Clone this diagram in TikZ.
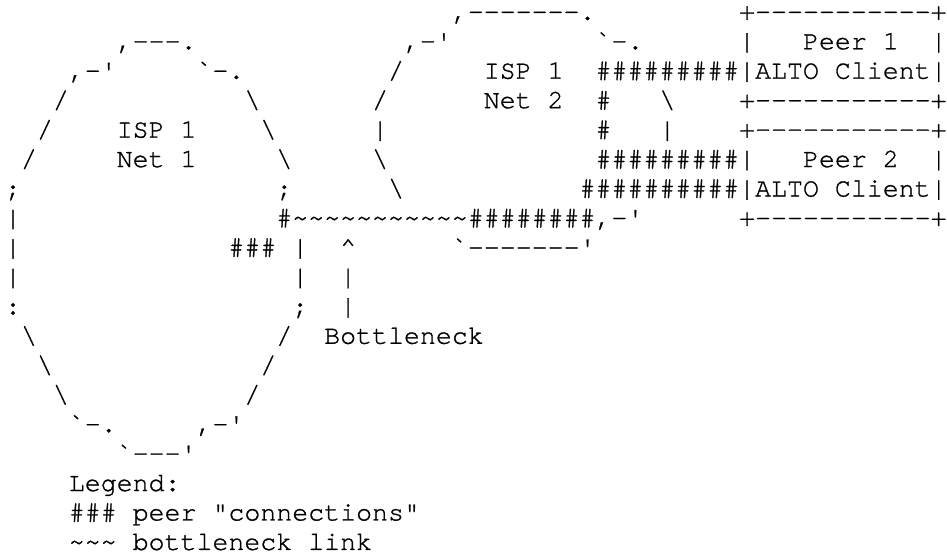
\documentclass[tikz,border=0pt]{standalone}
\usepackage{fontspec}
\setmonofont[FakeBold=1]{texgyrecursor-regular.otf}
\newcommand\bsl{\textbackslash}
\newcommand\tild{\textasciitilde}
\tikzset{ascii/.style={font=\ttfamily\fontsize{26.6}{29.5}\selectfont,
    inner sep=0pt,outer sep=0pt,anchor=base west}}

\begin{document}
\begin{tikzpicture}[x=15.96pt,y={(0pt,-29.45pt)}]
  \useasboundingbox (-5pt,19.8pt) rectangle (942pt,-535.2pt);
  % ISP 1 / Net 1
  \node[ascii] (n1top) at (7,1) {,---.};
  \node[ascii] (n1nw) at (4,2) {,-'};
  \node[ascii] (n1ne) at (12,2) {`-.};
  \node[ascii] (n1w) at (0,6) {;};
  \node[ascii] (n1e) at (17,6) {;};
  \node[ascii] (n1sw) at (0,10) {:};
  \node[ascii] (n1se) at (18,10) {;};
  \node[ascii] (n1bl) at (4,14) {`-.};
  \node[ascii] (n1br) at (12,14) {,-'};
  \node[ascii] (n1bot) at (7,15) {`---'};
  \node[ascii] (n1isp) at (7,4) {ISP 1};
  \node[ascii] (n1net) at (7,5) {Net 1};
  % ISP 1 / Net 2
  \node[ascii] (n2top) at (28,0) {,-------.};
  \node[ascii] (n2nw) at (25,1) {,-'};
  \node[ascii] (n2ne) at (37,1) {`-.};
  \node[ascii] (n2se) at (37,7) {,-'};
  \node[ascii] (n2bot) at (28,8) {`-------'};
  \node[ascii] (n2isp) at (30,2) {ISP 1};
  \node[ascii] (n2net) at (30,3) {Net 2};
  % cloud edges
  \foreach \c/\r in {3/3,2/4,1/5,17/11,16/12,15/13,24/2,23/3}
    \node[ascii] (sl-\c-\r) at (\c,\r) {/};
  \foreach \c/\r in {15/3,16/4,17/5,1/11,2/12,3/13,41/3,23/5,24/6}
    \node[ascii] (bs-\c-\r) at (\c,\r) {\bsl};
  \foreach \c/\r in {0/7,0/8,0/9,18/8,18/9,23/4,41/4}
    \node[ascii] (vb-\c-\r) at (\c,\r) {|};
  % peers
  \foreach \r/\n in {0/1,4/2}{
    \node[ascii] (p\n-top) at (46,\r) {+-----------+};
    \node[ascii] (p\n-l) at (46,\r+1) {|};
    \node[ascii] (p\n-name) at (50,\r+1) {Peer \n};
    \node[ascii] (p\n-r) at (58,\r+1) {|};
    \node[ascii] (p\n-alto) at (46,\r+2) {|ALTO Client|};
    \node[ascii] (p\n-bot) at (46,\r+3) {+-----------+};}
  % peer connections
  \node[ascii] (c1) at (37,2) {\#\#\#\#\#\#\#\#\#};
  \node[ascii] (c2) at (37,3) {\#};
  \node[ascii] (c3) at (37,4) {\#};
  \node[ascii] (c4) at (37,5) {\#\#\#\#\#\#\#\#\#};
  \node[ascii] (c5) at (36,6) {\#\#\#\#\#\#\#\#\#\#};
  \node[ascii] (c6) at (29,7) {\#\#\#\#\#\#\#\#};
  \node[ascii] (c7) at (17,7) {\#};
  \node[ascii] (c8) at (14,8) {\#\#\#};
  % bottleneck link
  \node[ascii] (link) at (18,7) {\tild\tild\tild\tild\tild\tild\tild\tild\tild\tild\tild};
  \node[ascii] (tip) at (21,8) {\textasciicircum};
  \node[ascii] (shaft1) at (21,9) {|};
  \node[ascii] (shaft2) at (21,10) {|};
  \node[ascii] (bneck) at (20,11) {Bottleneck};
  % legend
  \node[ascii] (leg) at (4,16) {Legend:};
  \node[ascii] (leg1) at (4,17) {\#\#\# peer "connections"};
  \node[ascii] (leg2) at (4,18) {\tild\tild\tild{} bottleneck link};
\end{tikzpicture}
\end{document}
